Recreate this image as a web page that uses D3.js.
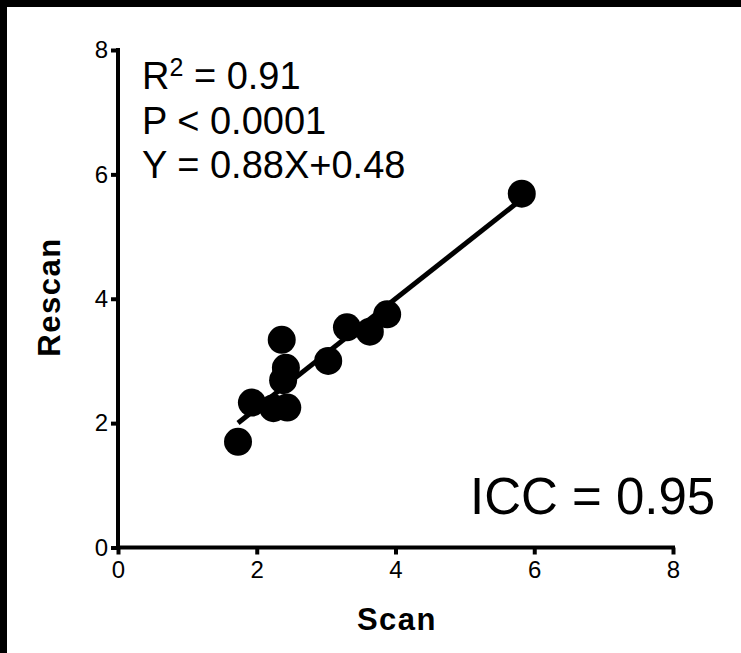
<!DOCTYPE html>
<html>
<head>
<meta charset="utf-8">
<script src="https://cdn.jsdelivr.net/npm/d3@7"></script>
<style>
  html, body { margin: 0; padding: 0; background: #fff; }
  svg { display: block; }
  text { font-family: "Liberation Sans", Arial, Helvetica, sans-serif; fill: #000; }
</style>
</head>
<body>
<script>
// Scan vs. rescan measurements
const scan   = [1.73, 1.93, 2.24, 2.44, 2.36, 2.42, 2.38, 3.03, 3.30, 3.63, 3.88, 5.82];
const rescan = [1.70, 2.33, 2.24, 2.25, 3.34, 2.89, 2.69, 3.00, 3.54, 3.47, 3.75, 5.69];

// Linear fit and agreement statistics
const slope = 0.88;
const intercept = 0.48;
const fitLines = ["R2 = 0.91", "P < 0.0001", "Y = 0.88X+0.48"];
const iccLabel = "ICC = 0.95";

const xTicks = [0, 2, 4, 6, 8];
const yTicks = [0, 2, 4, 6, 8];
const xTitle = "Scan";
const yTitle = "Rescan";

const W = 741, H = 653;
const svg = d3.select("body").append("svg").attr("width", W).attr("height", H);

svg.append("rect").attr("width", W).attr("height", H).attr("fill", "#fff");
// dark frame edges along top and left
svg.append("rect").attr("x", 0).attr("y", 0).attr("width", W).attr("height", 7).attr("fill", "#000");
svg.append("rect").attr("x", 0).attr("y", 0).attr("width", 7).attr("height", H).attr("fill", "#000");

const x = d3.scaleLinear().domain([0, 8]).range([118, 673]);
const y = d3.scaleLinear().domain([0, 8]).range([547.5, 50]);

// axes
const xAxis = svg.append("g").attr("transform", `translate(0,${y(0)})`)
  .call(d3.axisBottom(x).tickValues(xTicks).tickSize(7).tickPadding(6).tickSizeOuter(0));
const yAxis = svg.append("g").attr("transform", `translate(${x(0)},0)`)
  .call(d3.axisLeft(y).tickValues(yTicks).tickSize(7).tickPadding(3).tickSizeOuter(0));

[xAxis, yAxis].forEach(g => {
  g.select(".domain").attr("stroke", "#000").attr("stroke-width", 4);
  g.selectAll(".tick line").attr("stroke", "#000").attr("stroke-width", 4);
  g.selectAll(".tick text").attr("font-size", 24).attr("fill", "#000")
    .style("font-family", "'Liberation Sans', Arial, sans-serif");
});
// extend the domain lines to cover the square caps
xAxis.select(".domain").attr("d", `M${x(0) - 2},0H${x(8) + 2}`);
yAxis.select(".domain").attr("d", `M0,${y(0) + 2}V${y(8) - 2}`);

// regression line across the data range
const xMin = d3.min(scan), xMax = d3.max(scan);
svg.append("line")
  .attr("x1", x(xMin)).attr("y1", y(slope * xMin + intercept))
  .attr("x2", x(xMax)).attr("y2", y(slope * xMax + intercept))
  .attr("stroke", "#000").attr("stroke-width", 5);

// points
svg.append("g").selectAll("circle")
  .data(scan.map((s, i) => [s, rescan[i]]))
  .join("circle")
  .attr("cx", d => x(d[0]))
  .attr("cy", d => y(d[1]))
  .attr("r", 14)
  .attr("fill", "#000");

// fit statistics block
const stat = svg.append("g");
const lineY = [89, 134, 178];
const t0 = stat.append("text").attr("x", 142).attr("y", lineY[0]).attr("font-size", 38);
t0.append("tspan").text("R");
t0.append("tspan").attr("font-size", 25).attr("dy", -13).text("2");
t0.append("tspan").attr("dy", 13).text(" = 0.91");
stat.append("text").attr("x", 142).attr("y", lineY[1]).attr("font-size", 38).text(fitLines[1]);
stat.append("text").attr("x", 142).attr("y", lineY[2]).attr("font-size", 38).text(fitLines[2]);

svg.append("text").attr("x", 470).attr("y", 514).attr("font-size", 51).text(iccLabel);

// axis titles
svg.append("text")
  .attr("x", 397).attr("y", 630)
  .attr("text-anchor", "middle")
  .attr("font-size", 31).attr("font-weight", "bold")
  .attr("letter-spacing", 1.5)
  .text(xTitle);
svg.append("text")
  .attr("transform", "translate(60,297) rotate(-90)")
  .attr("text-anchor", "middle")
  .attr("font-size", 31).attr("font-weight", "bold")
  .attr("letter-spacing", 1.5)
  .text(yTitle);
</script>
</body>
</html>
